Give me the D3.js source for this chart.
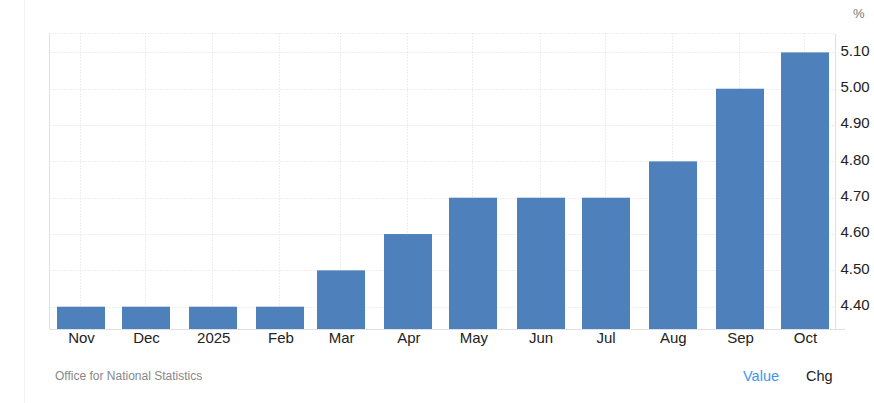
<!DOCTYPE html>
<html><head><meta charset="utf-8">
<script src="https://cdn.jsdelivr.net/npm/d3@7"></script>
<style>
html,body{margin:0;padding:0;background:#fff;}
svg{display:block;font-family:Arial,"Liberation Sans",sans-serif;}
</style></head>
<body>
<svg id="chart" width="874" height="403"></svg>
<script>
const dates = ["2024-11-01","2024-12-01","2025-01-01","2025-02-01","2025-03-01","2025-04-01","2025-05-01","2025-06-01","2025-07-01","2025-08-01","2025-09-01","2025-10-01"];
const categories = ["Nov","Dec","2025","Feb","Mar","Apr","May","Jun","Jul","Aug","Sep","Oct"];
const values = [4.4,4.4,4.4,4.4,4.5,4.6,4.7,4.7,4.7,4.8,5.0,5.1];
const yTicks = [4.4,4.5,4.6,4.7,4.8,4.9,5.0,5.1];
const yDomain = [4.3386, 5.152];
const unitLabel = "%";
const sourceText = "Office for National Statistics";

(function(){
const svg = d3.select("#chart");
const pLeft = 49.5, pRight = 835.5, pTop = 33.5, pBottom = 329;
const parse = d3.utcParse("%Y-%m-%d");
const dts = dates.map(parse);
const barW = 48;

svg.append("line").attr("x1",24.5).attr("x2",24.5).attr("y1",0).attr("y2",403)
  .attr("stroke","#f2f2f2").attr("stroke-width",1);

const x = d3.scaleUtc().domain([dts[0], dts[dts.length-1]]).range([81, 805]);
const y = d3.scaleLinear().domain(yDomain).range([pBottom, pTop]);

const g = svg.append("g");
g.selectAll(".hg").data(yTicks).join("line")
  .attr("x1",pLeft).attr("x2",pRight)
  .attr("y1",d=>Math.round(y(d))+0.5).attr("y2",d=>Math.round(y(d))+0.5)
  .attr("stroke","#dcdcdc").attr("stroke-dasharray","1,2");
g.append("line").attr("x1",pLeft).attr("x2",pRight).attr("y1",pTop).attr("y2",pTop)
  .attr("stroke","#dcdcdc").attr("stroke-dasharray","1,2");
g.selectAll(".vg").data(dts).join("line")
  .attr("x1",d=>Math.round(x(d))-0.5).attr("x2",d=>Math.round(x(d))-0.5)
  .attr("y1",pTop).attr("y2",pBottom)
  .attr("stroke","#dcdcdc").attr("stroke-dasharray","1,2");

g.selectAll(".bar").data(values).join("rect")
  .attr("x",(d,i)=>Math.round(x(dts[i]) - barW/2))
  .attr("width",barW)
  .attr("y",d=>y(d))
  .attr("height",d=>pBottom - y(d))
  .attr("fill","#4e81bc");

g.append("line").attr("x1",pLeft).attr("x2",pLeft).attr("y1",pTop).attr("y2",pBottom)
  .attr("stroke","#e0e0e0");
g.append("line").attr("x1",pRight).attr("x2",pRight).attr("y1",pTop).attr("y2",pBottom)
  .attr("stroke","#e0e0e0");
g.append("line").attr("x1",pLeft).attr("x2",845).attr("y1",pBottom+0.5).attr("y2",pBottom+0.5)
  .attr("stroke","#e0e0e0");

const labelOf = new Map(dts.map((d,i)=>[+d, categories[i]]));
const xAxis = d3.axisBottom(x).tickValues(dts).tickFormat(d=>labelOf.get(+d)).tickSize(0).tickPadding(0);
const xa = svg.append("g").attr("transform",`translate(0,${pBottom})`).call(xAxis);
xa.select(".domain").remove();
xa.selectAll("text").attr("dy",null).attr("y",14).attr("font-size","15px").attr("fill","#222")
  .attr("font-family","Arial, 'Liberation Sans', sans-serif");

const yAxis = d3.axisRight(y).tickValues(yTicks).tickFormat(d3.format(".2f")).tickSize(0).tickPadding(0);
const ya = svg.append("g").attr("transform",`translate(840.5,0)`).call(yAxis);
ya.select(".domain").remove();
ya.selectAll("text").attr("x",0).attr("y",-2.5).attr("dy","0.35em").attr("font-size","15px").attr("fill","#222")
  .attr("font-family","Arial, 'Liberation Sans', sans-serif");

svg.append("text").attr("x",853).attr("y",18).text(unitLabel)
  .attr("font-size","13px").attr("fill","#777");

svg.append("text").attr("x",55).attr("y",380).text(sourceText)
  .attr("font-size","12px").attr("fill","#888");

svg.append("text").attr("x",743).attr("y",381).text("Value")
  .attr("font-size","14.5px").attr("fill","#3d96ef");
svg.append("text").attr("x",806).attr("y",381).text("Chg")
  .attr("font-size","14.5px").attr("fill","#222");
})();
</script>
</body></html>
